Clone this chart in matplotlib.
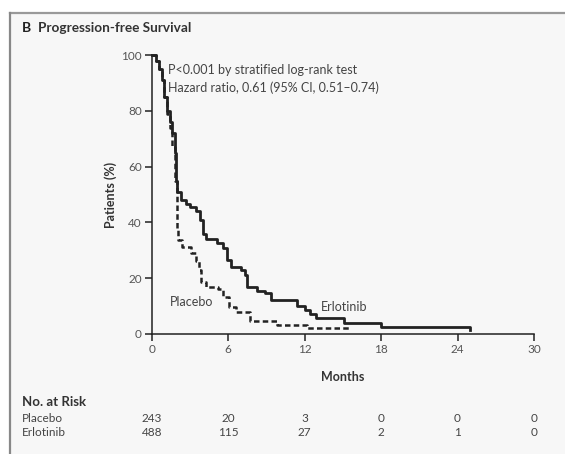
import matplotlib.pyplot as plt
from matplotlib.lines import Line2D

# Kaplan-Meier step points (months, percent)
erlo_t = [0, 0.3, 0.6, 0.8, 1.0, 1.2, 1.4, 1.6, 1.8, 1.9, 2.0, 2.3, 2.7, 3.0, 3.5, 3.8, 4.0, 4.3,
          5.1, 5.6, 5.9, 6.2, 7.0, 7.3, 7.5, 8.3, 8.9, 9.4, 10.9, 11.4, 12.0, 12.4, 12.9,
          14.8, 15.1, 17.1, 18.0, 25.0]
erlo_s = [100, 98, 95, 91, 85, 80, 76, 72, 65, 55, 51, 48, 46.5, 45.5, 44, 41, 36, 34,
          32.5, 31, 26.7, 24, 23, 21, 17, 15.5, 14.8, 12.3, 12.3, 10, 8.5, 7.3, 5.6,
          5.6, 3.8, 3.8, 2.4, 1.4]

plac_t = [0, 0.3, 0.6, 0.8, 1.0, 1.2, 1.4, 1.6, 1.8, 2.0, 2.1, 2.4, 3.1, 3.5, 3.7, 3.9,
          4.3, 5.2, 5.6, 6.1, 6.6, 7.1, 7.7, 9.3, 9.8, 11.7, 12.2, 15.6]
plac_s = [100, 98, 95, 91, 85, 79, 74, 67, 55, 38, 33.7, 31.3, 29, 26, 23, 18.8,
          17, 16, 13.4, 9.8, 8, 8, 4.8, 4.8, 3.2, 3.2, 2.0, 2.0]

risk_months = [0, 6, 12, 18, 24, 30]
risk_placebo = [243, 20, 3, 0, 0, 0]
risk_erlotinib = [488, 115, 27, 2, 1, 0]

plt.rcParams['font.family'] = ['Lato', 'DejaVu Sans']
grey = '#444444'

fig = plt.figure(figsize=(5.65, 4.54), dpi=100)
fig.patch.set_facecolor('white')

# panel background and border (top and left only)
fig.patches.append(plt.Rectangle((10 / 565, 0), 1, 1 - 13 / 454, transform=fig.transFigure,
                                 facecolor='#f7f7f7', edgecolor='none', zorder=-2))
fig.add_artist(Line2D([10 / 565, 1], [1 - 13 / 454] * 2, color='#999999', lw=1.6))
fig.add_artist(Line2D([10 / 565] * 2, [0, 1 - 13 / 454], color='#888888', lw=1.6))

ax = fig.add_axes([151.7 / 565, 120 / 454, 382.3 / 565, 279 / 454])
ax.set_facecolor('none')

ax.step(plac_t, plac_s, where='post', color='#222222', lw=1.8, ls=(0, (2.2, 1.3)),
        clip_on=False)
ax.step(erlo_t, erlo_s, where='post', color='#222222', lw=2.0, clip_on=False)

ax.set_xlim(0, 30)
ax.set_ylim(0, 100)
ax.set_xticks(risk_months)
ax.set_yticks([0, 20, 40, 60, 80, 100])
for s in ['top', 'right']:
    ax.spines[s].set_visible(False)
for s in ['left', 'bottom']:
    ax.spines[s].set_color('#222222')
    ax.spines[s].set_linewidth(1.1)
ax.tick_params(direction='out', length=5, width=1.1, color='#222222',
               labelsize=8.5, labelcolor='#555555', pad=2)

ax.set_ylabel('Patients (%)', fontsize=9, fontweight='bold', color='#333333', labelpad=3)
ax.set_xlabel('Months', fontsize=9, fontweight='bold', color='#333333', labelpad=12)

ax.text(1.3, 94.6, 'P<0.001 by stratified log-rank test', fontsize=9, color=grey, va='center')
ax.text(1.3, 88.2, 'Hazard ratio, 0.61 (95% CI, 0.51\u20130.74)', fontsize=9, color=grey,
        va='center')
ax.text(1.4, 11.5, 'Placebo', fontsize=9, color=grey, va='center')
ax.text(13.3, 9.7, 'Erlotinib', fontsize=9, color=grey, va='center')

fig.text(22 / 565, 1 - 28 / 454, 'B', fontsize=10, fontweight='bold', color='#222222',
         va='center')
fig.text(38 / 565, 1 - 28 / 454, 'Progression-free Survival', fontsize=9.8, fontweight='bold',
         color='#333333', va='center')

# number at risk table
fig.text(22 / 565, 1 - 402 / 454, 'No. at Risk', fontsize=9.5, fontweight='bold',
         color='#333333', va='center')
fig.text(22 / 565, 1 - 418 / 454, 'Placebo', fontsize=8.5, color=grey, va='center')
fig.text(22 / 565, 1 - 433 / 454, 'Erlotinib', fontsize=8.5, color=grey, va='center')
for m, p, e in zip(risk_months, risk_placebo, risk_erlotinib):
    xf = (151.7 + m * 12.743) / 565
    fig.text(xf, 1 - 418 / 454, str(p), fontsize=8.5, color=grey, va='center', ha='center')
    fig.text(xf, 1 - 433 / 454, str(e), fontsize=8.5, color=grey, va='center', ha='center')

fig.savefig('out.png', dpi=100)
